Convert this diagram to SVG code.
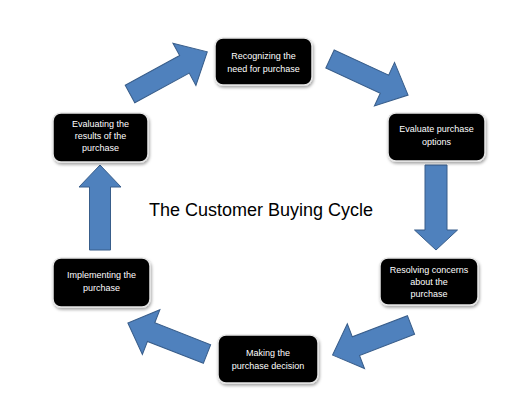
<svg xmlns="http://www.w3.org/2000/svg" width="527" height="405" viewBox="0 0 527 405">
<defs>
<filter id="sh" x="-20%" y="-20%" width="140%" height="150%">
<feDropShadow dx="1" dy="2" stdDeviation="1.5" flood-color="#000" flood-opacity="0.35"/>
</filter>
</defs>
<style>
.box{fill:#000;stroke:#e6e6e6;stroke-width:1.5;filter:url(#sh)}
.lbl{font-family:"Liberation Sans",Arial,sans-serif;font-size:9px;fill:#fff;text-anchor:middle}
.arr{fill:#4F81BD;stroke:#385D8A;stroke-width:1}
.title{font-family:"Liberation Sans",Arial,sans-serif;font-size:18px;fill:#000;text-anchor:middle}
</style>
<rect width="527" height="405" fill="#fff"/>
<g id="connectors">
<path class="arr" transform="translate(130,94) rotate(-28.6)" d="M0,-10 L62,-10 L62,-24 L88,0 L62,24 L62,10 L0,10 Z"/>
<path class="arr" transform="translate(330,59) rotate(24.8)" d="M0,-10 L60,-10 L60,-24 L86,0 L60,24 L60,10 L0,10 Z"/>
<path class="arr" transform="translate(436,165) rotate(90)" d="M0,-11 L65,-11 L65,-21.5 L85,0 L65,21.5 L65,11 L0,11 Z"/>
<path class="arr" transform="translate(411,325) rotate(159)" d="M0,-10 L59,-10 L59,-24 L84,0 L59,24 L59,10 L0,10 Z"/>
<path class="arr" transform="translate(207,354) rotate(201.4)" d="M0,-10 L60,-10 L60,-24 L85,0 L60,24 L60,10 L0,10 Z"/>
<path class="arr" transform="translate(100,250) rotate(-90)" d="M0,-10.5 L63,-10.5 L63,-21 L85,0 L63,21 L63,10.5 L0,10.5 Z"/>
</g>
<g id="n1">
<rect class="box" x="215" y="38" width="97" height="47" rx="8"/>
<text class="lbl" x="263.5" y="59">Recognizing the</text>
<text class="lbl" x="263.5" y="72">need for purchase</text>
</g>
<g id="n2">
<rect class="box" x="388" y="113" width="97" height="48" rx="8"/>
<text class="lbl" x="436.5" y="132">Evaluate purchase</text>
<text class="lbl" x="436.5" y="145">options</text>
</g>
<g id="n3">
<rect class="box" x="380" y="258" width="98" height="47" rx="8"/>
<text class="lbl" x="429" y="273">Resolving concerns</text>
<text class="lbl" x="429" y="285">about the</text>
<text class="lbl" x="429" y="297">purchase</text>
</g>
<g id="n4">
<rect class="box" x="218" y="335" width="100" height="48" rx="8"/>
<text class="lbl" x="268" y="356">Making the</text>
<text class="lbl" x="268" y="369">purchase decision</text>
</g>
<g id="n5">
<rect class="box" x="53" y="258" width="97" height="49" rx="8"/>
<text class="lbl" x="101.5" y="278">Implementing the</text>
<text class="lbl" x="101.5" y="291">purchase</text>
</g>
<g id="n6">
<rect class="box" x="53" y="113" width="95" height="49" rx="8"/>
<text class="lbl" x="100.5" y="127">Evaluating the</text>
<text class="lbl" x="100.5" y="139">results of the</text>
<text class="lbl" x="100.5" y="151">purchase</text>
</g>
<g id="title">
<text class="title" x="261" y="216">The Customer Buying Cycle</text>
</g>
</svg>
